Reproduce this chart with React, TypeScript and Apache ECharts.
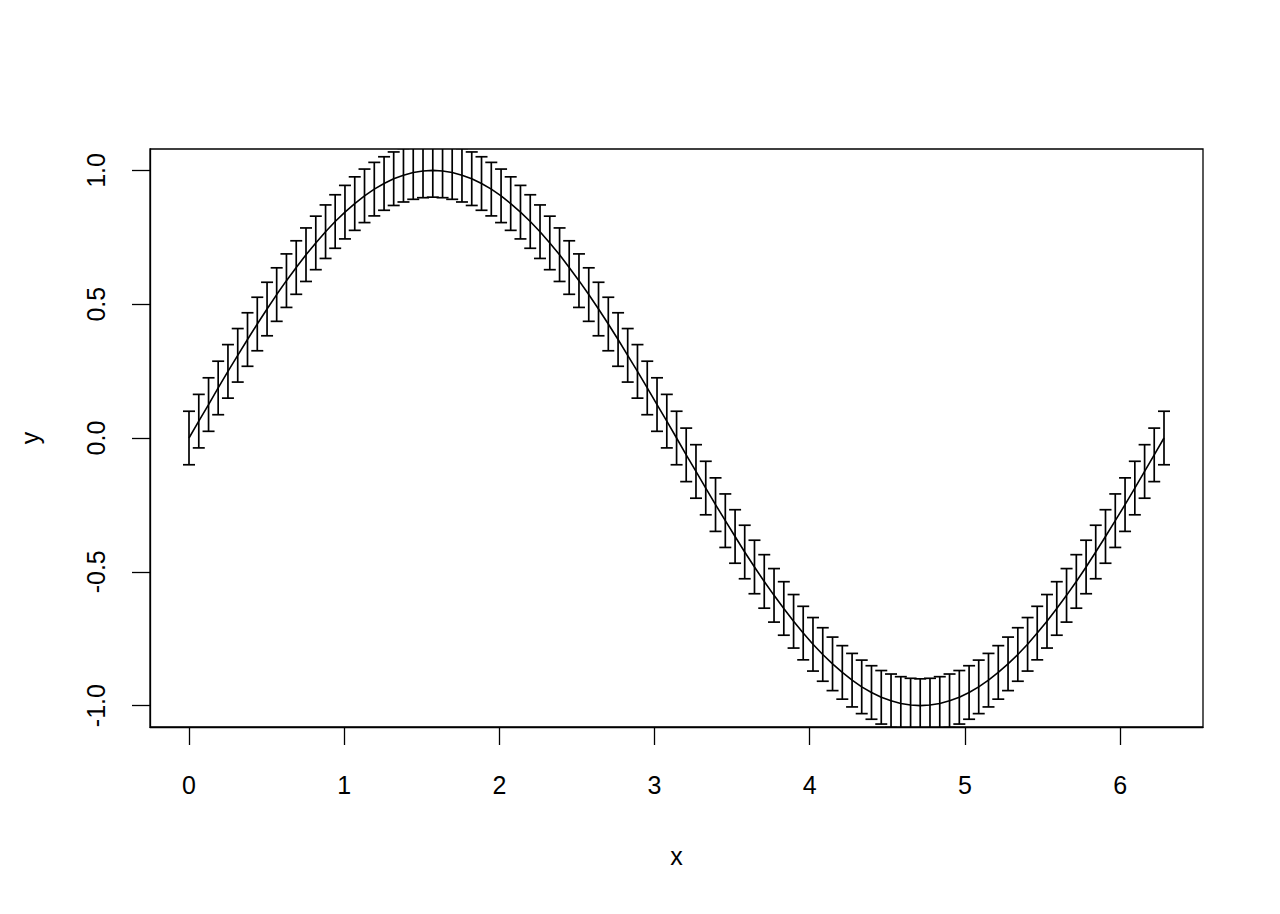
import React, { useEffect, useRef } from "react";
import * as echarts from "echarts";

const xValues = [
  0.0, 0.063, 0.126, 0.188, 0.251, 0.314, 0.377, 0.44, 0.503, 0.565,
  0.628, 0.691, 0.754, 0.817, 0.88, 0.942, 1.005, 1.068, 1.131, 1.194,
  1.257, 1.319, 1.382, 1.445, 1.508, 1.571, 1.634, 1.696, 1.759, 1.822,
  1.885, 1.948, 2.011, 2.073, 2.136, 2.199, 2.262, 2.325, 2.388, 2.45,
  2.513, 2.576, 2.639, 2.702, 2.765, 2.827, 2.89, 2.953, 3.016, 3.079,
  3.142, 3.204, 3.267, 3.33, 3.393, 3.456, 3.519, 3.581, 3.644, 3.707,
  3.77, 3.833, 3.896, 3.958, 4.021, 4.084, 4.147, 4.21, 4.273, 4.335,
  4.398, 4.461, 4.524, 4.587, 4.65, 4.712, 4.775, 4.838, 4.901, 4.964,
  5.027, 5.089, 5.152, 5.215, 5.278, 5.341, 5.404, 5.466, 5.529, 5.592,
  5.655, 5.718, 5.781, 5.843, 5.906, 5.969, 6.032, 6.095, 6.158, 6.22,
  6.283,
];

const yValues = [
  0.0, 0.063, 0.125, 0.187, 0.249, 0.309, 0.368, 0.426, 0.482, 0.536,
  0.588, 0.637, 0.685, 0.729, 0.771, 0.809, 0.844, 0.876, 0.905, 0.93,
  0.951, 0.969, 0.982, 0.992, 0.998, 1.0, 0.998, 0.992, 0.982, 0.969,
  0.951, 0.93, 0.905, 0.876, 0.844, 0.809, 0.771, 0.729, 0.685, 0.637,
  0.588, 0.536, 0.482, 0.426, 0.368, 0.309, 0.249, 0.187, 0.125, 0.063,
  0.0, -0.063, -0.125, -0.187, -0.249, -0.309, -0.368, -0.426, -0.482, -0.536,
  -0.588, -0.637, -0.685, -0.729, -0.771, -0.809, -0.844, -0.876, -0.905, -0.93,
  -0.951, -0.969, -0.982, -0.992, -0.998, -1.0, -0.998, -0.992, -0.982, -0.969,
  -0.951, -0.93, -0.905, -0.876, -0.844, -0.809, -0.771, -0.729, -0.685, -0.637,
  -0.588, -0.536, -0.482, -0.426, -0.368, -0.309, -0.249, -0.187, -0.125, -0.063,
  0.0,
];

const errorSize = 0.1;

const xTicks = [0, 1, 2, 3, 4, 5, 6];
const yTicks = [-1, -0.5, 0, 0.5, 1];

const xName = "x";
const yName = "y";

const FONT = "Liberation Sans, Arial, sans-serif";

export default function App() {
  const ref = useRef<HTMLDivElement>(null);

  useEffect(() => {
    if (!ref.current) return;
    const chart = echarts.init(ref.current, undefined, { renderer: "svg" });

    const lineData = xValues.map((x, i) => [x, yValues[i]]);
    const errData = xValues.map((x, i) => [
      x,
      yValues[i],
      yValues[i] - errorSize,
      yValues[i] + errorSize,
    ]);

    const xMin = 0 - 0.04 * (6.283 - 0);
    const xMax = 6.283 + 0.04 * 6.283;
    const yMin = -1 - 0.04 * 2;
    const yMax = 1 + 0.04 * 2;

    const barStyle = { stroke: "#000", lineWidth: 1.7 };
    const capHalf = 6;

    chart.setOption({
      animation: false,
      backgroundColor: "#fff",
      grid: {
        left: 150,
        top: 149,
        right: 77,
        bottom: 187,
        show: true,
        borderColor: "#000",
        borderWidth: 1.3,
        backgroundColor: "transparent",
      },
      xAxis: {
        type: "value",
        min: xMin,
        max: xMax,
        name: xName,
        nameLocation: "middle",
        nameGap: 116,
        nameTextStyle: { fontFamily: FONT, fontSize: 25, color: "#000" },
        axisLine: { show: true, onZero: false, lineStyle: { color: "#000", width: 1.3 } },
        axisTick: {
          show: true,
          inside: false,
          length: 18,
          customValues: xTicks,
          lineStyle: { color: "#000", width: 1.3 },
        },
        axisLabel: {
          show: true,
          customValues: xTicks,
          margin: 45,
          fontFamily: FONT,
          fontSize: 25,
          color: "#000",
          formatter: (v: number) => String(v),
        },
        splitLine: { show: false },
      },
      yAxis: {
        type: "value",
        min: yMin,
        max: yMax,
        name: yName,
        nameLocation: "middle",
        nameGap: 108,
        nameRotate: 90,
        nameTextStyle: { fontFamily: FONT, fontSize: 25, color: "#000" },
        axisLine: { show: true, onZero: false, lineStyle: { color: "#000", width: 1.3 } },
        axisTick: {
          show: true,
          inside: false,
          length: 18,
          customValues: yTicks,
          lineStyle: { color: "#000", width: 1.3 },
        },
        axisLabel: {
          show: true,
          customValues: yTicks,
          rotate: 90,
          margin: 42,
          fontFamily: FONT,
          fontSize: 25,
          color: "#000",
          formatter: (v: number) => v.toFixed(1),
        },
        splitLine: { show: false },
      },
      series: [
        {
          type: "line",
          data: lineData,
          symbol: "none",
          smooth: false,
          lineStyle: { color: "#000", width: 1.6 },
          clip: true,
          z: 3,
        },
        {
          type: "custom",
          data: errData,
          clip: true,
          encode: { x: 0, y: 1 },
          renderItem: (params: any, api: any) => {
            const x = api.value(0);
            const lo = api.value(2);
            const hi = api.value(3);
            const pLo = api.coord([x, lo]);
            const pHi = api.coord([x, hi]);
            return {
              type: "group",
              children: [
                {
                  type: "line",
                  shape: { x1: pLo[0], y1: pLo[1], x2: pHi[0], y2: pHi[1] },
                  style: barStyle,
                },
                {
                  type: "line",
                  shape: { x1: pLo[0] - capHalf, y1: pLo[1], x2: pLo[0] + capHalf, y2: pLo[1] },
                  style: barStyle,
                },
                {
                  type: "line",
                  shape: { x1: pHi[0] - capHalf, y1: pHi[1], x2: pHi[0] + capHalf, y2: pHi[1] },
                  style: barStyle,
                },
              ],
            };
          },
          z: 2,
        },
      ],
    });

    return () => {
      chart.dispose();
    };
  }, []);

  return (
    <div
      ref={ref}
      style={{ position: "fixed", left: 0, top: 0, width: 1280, height: 914 }}
    />
  );
}
